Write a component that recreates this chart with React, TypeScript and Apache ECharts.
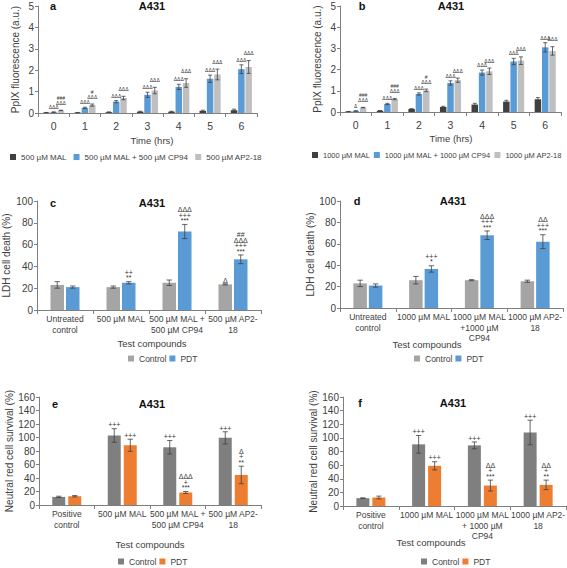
import React, { useEffect, useRef } from 'react';
import * as echarts from 'echarts';

const FONT = 'Liberation Sans, Arial, sans-serif';
const TXT = '#404040';
const AXIS = '#7f7f7f';

// ---------- Panel a (500 µM) ----------
const TIME_LABELS = ['0', '1', '2', '3', '4', '5', '6'];
const A_NAMES = ['500 µM MAL', '500 µM MAL + 500 µM CP94', '500 µM AP2-18'];
const A_MAL = [0.02, 0.02, 0.04, 0.06, 0.06, 0.1, 0.13];
const A_MAL_ERR = [0.005, 0.005, 0.01, 0.02, 0.02, 0.03, 0.05];
const A_CP94 = [0.04, 0.24, 0.53, 0.85, 1.22, 1.6, 2.05];
const A_CP94_ERR = [0.01, 0.03, 0.05, 0.12, 0.12, 0.17, 0.2];
const A_AP = [0.12, 0.37, 0.7, 1.05, 1.4, 1.8, 2.15];
const A_AP_ERR = [0.01, 0.05, 0.08, 0.15, 0.2, 0.25, 0.3];
const A_CP94_ANN = ['ΔΔΔ', 'ΔΔΔ', 'ΔΔΔ', 'ΔΔΔ', 'ΔΔΔ', 'ΔΔΔ', 'ΔΔΔ'];
const A_AP_ANN = ['###\nΔΔΔ', '#\nΔΔΔ', 'ΔΔΔ', 'ΔΔΔ', 'ΔΔΔ', 'ΔΔΔ', 'ΔΔΔ'];

// ---------- Panel b (1000 µM) ----------
const B_NAMES = ['1000 µM MAL', '1000 µM MAL + 1000 µM CP94', '1000 µM AP2-18'];
const B_MAL = [0.02, 0.06, 0.14, 0.24, 0.35, 0.49, 0.6];
const B_MAL_ERR = [0.005, 0.01, 0.02, 0.03, 0.06, 0.06, 0.08];
const B_CP94 = [0.05, 0.38, 0.85, 1.37, 1.86, 2.38, 3.05];
const B_CP94_ERR = [0.01, 0.03, 0.05, 0.1, 0.12, 0.15, 0.22];
const B_AP = [0.21, 0.61, 1.02, 1.5, 1.92, 2.42, 2.88];
const B_AP_ERR = [0.01, 0.03, 0.06, 0.1, 0.15, 0.18, 0.2];
const B_CP94_ANN = ['Δ', 'ΔΔΔ', 'ΔΔΔ', 'ΔΔΔ', 'ΔΔΔ', 'ΔΔΔ', 'ΔΔΔ'];
const B_AP_ANN = ['###\nΔΔΔ', '###\nΔΔΔ', '#\nΔΔΔ', 'ΔΔΔ', 'ΔΔΔ', 'ΔΔΔ', 'ΔΔΔ'];

// ---------- Panel c (LDH, 500 µM) ----------
const C_CATS = ['Untreated\ncontrol', '500 µM MAL', '500 µM MAL +\n500 µM CP94', '500 µM AP2-\n18'];
const C_CONTROL = [23, 21, 25, 23.5];
const C_CONTROL_ERR = [3, 1, 2.5, 0.5];
const C_PDT = [21, 25, 72, 46.5];
const C_PDT_ERR = [1, 1, 6.5, 4];
const C_CONTROL_ANN = ['', '', '', 'Δ'];
const C_PDT_ANN = ['', '++\n**', 'ΔΔΔ\n+++\n***', '##\nΔΔΔ\n+++\n***'];

// ---------- Panel d (LDH, 1000 µM) ----------
const D_CATS = ['Untreated\ncontrol', '1000 µM MAL', '1000 µM MAL\n+1000 µM\nCP94', '1000 µM AP2-\n18'];
const D_CONTROL = [23, 26, 26, 25];
const D_CONTROL_ERR = [3, 3.5, 0.5, 1];
const D_PDT = [21, 36.5, 68, 62];
const D_PDT_ERR = [1.5, 3, 4, 6.5];
const D_CONTROL_ANN = ['', '', '', ''];
const D_PDT_ANN = ['', '+++\n*', 'ΔΔΔ\n+++\n***', 'ΔΔ\n+++\n***'];

// ---------- Panel e (Neutral red, 500 µM) ----------
const E_CATS = ['Positive\ncontrol', '500 µM MAL', '500 µM MAL +\n500 µM CP94', '500 µM AP2-\n18'];
const E_CONTROL = [12, 103, 85.5, 99.5];
const E_CONTROL_ERR = [1, 10, 10, 9];
const E_PDT = [13, 88.5, 18.5, 44.5];
const E_PDT_ERR = [1, 9, 1.5, 13];
const E_CONTROL_ANN = ['', '+++', '+++', '+++'];
const E_PDT_ANN = ['', '+++', 'ΔΔΔ\n+\n***', 'Δ\n+\n**'];

// ---------- Panel f (Neutral red, 1000 µM) ----------
const F_CATS = ['Positive\ncontrol', '1000 µM MAL', '1000 µM MAL\n+ 1000 µM\nCP94', '1000 µM AP2-\n18'];
const F_CONTROL = [11.5, 90.5, 89, 108];
const F_CONTROL_ERR = [0.5, 13, 5, 18];
const F_PDT = [12.5, 59, 30, 31];
const F_PDT_ERR = [2, 6, 8, 7];
const F_CONTROL_ANN = ['', '+++', '+++', '+++'];
const F_PDT_ANN = ['', '+++', 'ΔΔ\n+\n***', 'ΔΔ\n+\n**'];

const GROUP_NAMES = ['Control', 'PDT'];

type SeriesDef = { name: string; color: string; values: number[]; errs: number[]; anns: string[]; lift: number };
type PanelDef = {
  grid: { left: number; top: number; width: number; height: number };
  cats: string[];
  max: number;
  interval: number;
  barW: number;
  gap: number;
  series: SeriesDef[];
  xFont: number;
  xMargin: number;
  yName: string;
  yNameGap: number;
  annFont: number;
  annLine: number;
};

const PANELS: PanelDef[] = [
  {
    grid: { left: 38, top: 6, width: 219, height: 107 },
    cats: TIME_LABELS, max: 5, interval: 1, barW: 6.5, gap: 0.8,
    series: [
      { name: A_NAMES[0], color: '#404040', values: A_MAL, errs: A_MAL_ERR, anns: [], lift: 2 },
      { name: A_NAMES[1], color: '#5B9BD5', values: A_CP94, errs: A_CP94_ERR, anns: A_CP94_ANN, lift: 2.5 },
      { name: A_NAMES[2], color: '#BFBFBF', values: A_AP, errs: A_AP_ERR, anns: A_AP_ANN, lift: 5 },
    ],
    xFont: 10.5, xMargin: 8, yName: 'PpIX fluorescence (a.u.)', yNameGap: 18, annFont: 5, annLine: 5,
  },
  {
    grid: { left: 340, top: 6, width: 221, height: 106 },
    cats: TIME_LABELS, max: 5, interval: 1, barW: 6.5, gap: 0.8,
    series: [
      { name: B_NAMES[0], color: '#404040', values: B_MAL, errs: B_MAL_ERR, anns: [], lift: 2 },
      { name: B_NAMES[1], color: '#5B9BD5', values: B_CP94, errs: B_CP94_ERR, anns: B_CP94_ANN, lift: 2.5 },
      { name: B_NAMES[2], color: '#BFBFBF', values: B_AP, errs: B_AP_ERR, anns: B_AP_ANN, lift: 5 },
    ],
    xFont: 10.5, xMargin: 8, yName: 'PpIX fluorescence (a.u.)', yNameGap: 18, annFont: 5, annLine: 5,
  },
  {
    grid: { left: 37, top: 201, width: 224, height: 109 },
    cats: C_CATS, max: 100, interval: 20, barW: 13.5, gap: 2,
    series: [
      { name: GROUP_NAMES[0], color: '#A5A5A5', values: C_CONTROL, errs: C_CONTROL_ERR, anns: C_CONTROL_ANN, lift: 1 },
      { name: GROUP_NAMES[1], color: '#5B9BD5', values: C_PDT, errs: C_PDT_ERR, anns: C_PDT_ANN, lift: 1 },
    ],
    xFont: 8.5, xMargin: 4, yName: 'LDH cell death (%)', yNameGap: 26, annFont: 7, annLine: 5.5,
  },
  {
    grid: { left: 340, top: 201, width: 223, height: 107 },
    cats: D_CATS, max: 100, interval: 20, barW: 13.5, gap: 2,
    series: [
      { name: GROUP_NAMES[0], color: '#A5A5A5', values: D_CONTROL, errs: D_CONTROL_ERR, anns: D_CONTROL_ANN, lift: 1 },
      { name: GROUP_NAMES[1], color: '#5B9BD5', values: D_PDT, errs: D_PDT_ERR, anns: D_PDT_ANN, lift: 1 },
    ],
    xFont: 8.5, xMargin: 4, yName: 'LDH cell death (%)', yNameGap: 25, annFont: 7, annLine: 5.5,
  },
  {
    grid: { left: 39, top: 397, width: 222, height: 108 },
    cats: E_CATS, max: 160, interval: 20, barW: 13, gap: 3,
    series: [
      { name: GROUP_NAMES[0], color: '#7F7F7F', values: E_CONTROL, errs: E_CONTROL_ERR, anns: E_CONTROL_ANN, lift: 1 },
      { name: GROUP_NAMES[1], color: '#ED7D31', values: E_PDT, errs: E_PDT_ERR, anns: E_PDT_ANN, lift: 1 },
    ],
    xFont: 8.5, xMargin: 4, yName: 'Neutral red cell survival (%)', yNameGap: 24, annFont: 7, annLine: 5.5,
  },
  {
    grid: { left: 343, top: 397, width: 223, height: 109 },
    cats: F_CATS, max: 160, interval: 20, barW: 13, gap: 3,
    series: [
      { name: GROUP_NAMES[0], color: '#7F7F7F', values: F_CONTROL, errs: F_CONTROL_ERR, anns: F_CONTROL_ANN, lift: 1 },
      { name: GROUP_NAMES[1], color: '#ED7D31', values: F_PDT, errs: F_PDT_ERR, anns: F_PDT_ANN, lift: 1 },
    ],
    xFont: 8.5, xMargin: 4, yName: 'Neutral red cell survival (%)', yNameGap: 23, annFont: 7, annLine: 5.5,
  },
];

const LEGENDS = [
  { left: 10, top: 153, gap: 7, font: 8, items: PANELS[0].series },
  { left: 312, top: 151, gap: 4, font: 7.5, items: PANELS[1].series },
  { left: 128, top: 354, gap: 3, font: 8.5, items: PANELS[2].series },
  { left: 414, top: 354, gap: 3, font: 8.5, items: PANELS[3].series },
  { left: 118, top: 557, gap: 3, font: 8.5, items: PANELS[4].series },
  { left: 421, top: 557, gap: 3, font: 8.5, items: PANELS[5].series },
];

const LABELS = [
  { text: 'a', x: 53, y: 6, bold: true, size: 11 },
  { text: 'A431', x: 152, y: 6, bold: true, size: 11 },
  { text: 'b', x: 362, y: 6, bold: true, size: 11 },
  { text: 'A431', x: 451, y: 6, bold: true, size: 11 },
  { text: 'c', x: 53, y: 203, bold: true, size: 11 },
  { text: 'A431', x: 152, y: 203, bold: true, size: 11 },
  { text: 'd', x: 357, y: 201, bold: true, size: 11 },
  { text: 'A431', x: 453, y: 201, bold: true, size: 11 },
  { text: 'e', x: 55, y: 404, bold: true, size: 11 },
  { text: 'A431', x: 152, y: 404, bold: true, size: 11 },
  { text: 'f', x: 360, y: 403, bold: true, size: 11 },
  { text: 'A431', x: 453, y: 403, bold: true, size: 11 },
  { text: 'Time (hrs)', x: 152, y: 140, bold: false, size: 9.5 },
  { text: 'Time (hrs)', x: 451, y: 138, bold: false, size: 9.5 },
  { text: 'Test compounds', x: 152, y: 343, bold: false, size: 9.5 },
  { text: 'Test compounds', x: 427, y: 344, bold: false, size: 9.5 },
  { text: 'Test compounds', x: 150, y: 544, bold: false, size: 9.5 },
  { text: 'Test compounds', x: 431, y: 542, bold: false, size: 9.5 },
];

function buildOption() {
  const grid: any[] = [];
  const xAxis: any[] = [];
  const yAxis: any[] = [];
  const series: any[] = [];

  PANELS.forEach((p, pi) => {
    grid.push({ ...p.grid, containLabel: false, outerBoundsMode: 'none' });
    xAxis.push({
      type: 'category',
      gridIndex: pi,
      data: p.cats,
      axisLine: { show: true, lineStyle: { color: AXIS, width: 1 } },
      axisTick: { show: true, alignWithLabel: false, length: 4, lineStyle: { color: AXIS } },
      axisLabel: {
        interval: 0, fontSize: p.xFont, color: TXT, fontFamily: FONT,
        margin: p.xMargin, lineHeight: 10.5,
      },
      splitLine: { show: false },
    });
    yAxis.push({
      type: 'value',
      gridIndex: pi,
      min: 0,
      max: p.max,
      interval: p.interval,
      name: p.yName,
      nameLocation: 'middle',
      nameGap: p.yNameGap,
      nameTextStyle: { fontSize: 10, color: TXT, fontFamily: FONT },
      axisLine: { show: true, lineStyle: { color: AXIS, width: 1 } },
      axisTick: { show: true, length: 3, lineStyle: { color: AXIS } },
      axisLabel: { fontSize: 10, color: TXT, fontFamily: FONT, margin: 4 },
      splitLine: { show: false },
    });

    const n = p.series.length;
    p.series.forEach((s, si) => {
      series.push({
        type: 'bar',
        name: s.name,
        xAxisIndex: pi,
        yAxisIndex: pi,
        data: s.values,
        barWidth: p.barW,
        barGap: `${(p.gap / p.barW) * 100}%`,
        itemStyle: { color: s.color },
        silent: true,
      });
      const off = (si - (n - 1) / 2) * (p.barW + p.gap);
      const cap = Math.max(2, p.barW * 0.2);
      series.push({
        type: 'custom',
        name: `err-${pi}-${si}`,
        xAxisIndex: pi,
        yAxisIndex: pi,
        coordinateSystem: 'cartesian2d',
        silent: true,
        clip: false,
        z: 5,
        data: s.values.map((v, i) => [i, v, s.errs[i]]),
        encode: { x: 0, y: 1 },
        renderItem: (params: any, api: any) => {
          const i = params.dataIndex;
          const v = s.values[i];
          const e = s.errs[i];
          const pTop = api.coord([i, v + e]);
          const pBot = api.coord([i, Math.max(v - e, 0)]);
          const x = pTop[0] + off;
          const children: any[] = [];
          if (e > 0) {
            const ls = { stroke: '#404040', lineWidth: 0.8 };
            children.push({ type: 'line', shape: { x1: x, y1: pTop[1], x2: x, y2: pBot[1] }, style: ls });
            children.push({ type: 'line', shape: { x1: x - cap, y1: pTop[1], x2: x + cap, y2: pTop[1] }, style: ls });
            children.push({ type: 'line', shape: { x1: x - cap, y1: pBot[1], x2: x + cap, y2: pBot[1] }, style: ls });
          }
          const ann = s.anns[i];
          if (ann) {
            children.push({
              type: 'text',
              x,
              y: pTop[1] - s.lift,
              style: {
                text: ann, align: 'center', verticalAlign: 'bottom',
                fontSize: p.annFont, lineHeight: p.annLine, fontFamily: FONT, fill: '#333',
              },
            });
          }
          return { type: 'group', children };
        },
      });
    });
  });

  const legend = LEGENDS.map((l) => ({
    left: l.left,
    top: l.top,
    width: 400,
    padding: 0,
    orient: 'horizontal',
    icon: 'rect',
    itemWidth: 6,
    itemHeight: 6,
    itemGap: l.gap,
    selectedMode: false,
    textStyle: { fontSize: l.font, color: TXT, fontFamily: FONT },
    data: l.items.map((it) => ({ name: it.name, itemStyle: { color: it.color } })),
  }));

  const graphic = LABELS.map((t) => ({
    type: 'text',
    x: t.x,
    y: t.y,
    silent: true,
    style: {
      text: t.text, align: 'center', verticalAlign: 'middle',
      fontSize: t.size, fontWeight: t.bold ? 'bold' : 'normal', fontFamily: FONT, fill: t.bold ? '#111' : TXT,
    },
  }));

  return {
    animation: false,
    backgroundColor: '#ffffff',
    textStyle: { fontFamily: FONT },
    grid,
    xAxis,
    yAxis,
    legend,
    graphic,
    series,
  };
}

export default function App() {
  const ref = useRef<HTMLDivElement>(null);
  useEffect(() => {
    if (!ref.current) return;
    const chart = echarts.init(ref.current, undefined, { renderer: 'svg' });
    chart.setOption(buildOption() as any);
    return () => chart.dispose();
  }, []);
  return (
    <div
      ref={ref}
      style={{ position: 'fixed', left: 0, top: 0, width: 567, height: 568, background: '#fff' }}
    />
  );
}
